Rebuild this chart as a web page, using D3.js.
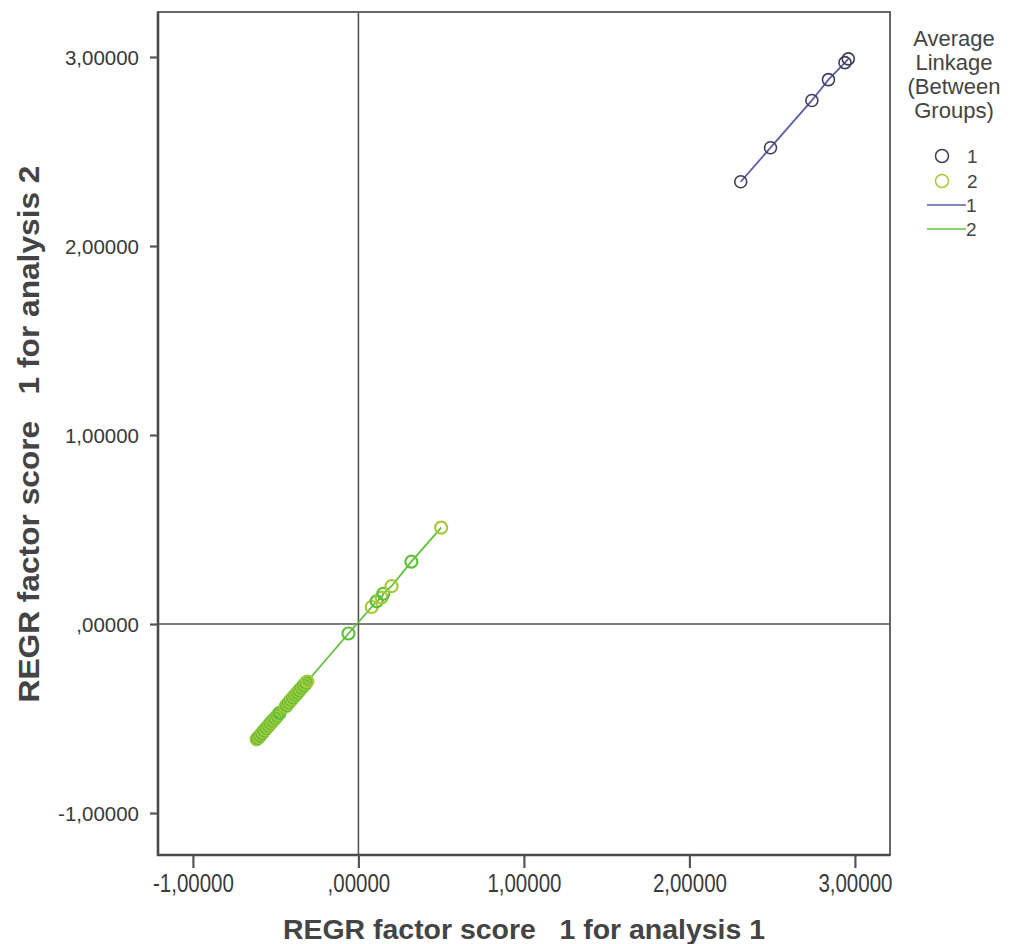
<!DOCTYPE html>
<html>
<head>
<meta charset="utf-8">
<script src="https://cdn.jsdelivr.net/npm/d3@7"></script>
<style>
  html, body { margin: 0; padding: 0; background: #fff; }
  svg { display: block; font-family: "Liberation Sans", Arial, sans-serif; }
</style>
</head>
<body>
<svg id="chart" width="1010" height="944"></svg>
<script>
// Cluster membership (Average Linkage, Between Groups) of REGR factor scores
const cluster1X = [2.31, 2.49, 2.74, 2.84, 2.94, 2.96];
const cluster1Y = [2.34, 2.52, 2.77, 2.88, 2.97, 2.99];

const cluster2X = [
  -0.615, -0.608, -0.600, -0.594, -0.588, -0.581, -0.575, -0.569, -0.562, -0.556, -0.549,
  -0.543, -0.536, -0.530, -0.523, -0.517, -0.510, -0.503, -0.497, -0.490, -0.483, -0.477,
  -0.440, -0.433, -0.427, -0.420, -0.414, -0.407, -0.401, -0.394, -0.388, -0.381, -0.375,
  -0.368, -0.362, -0.355, -0.349, -0.342, -0.336, -0.329, -0.322, -0.316, -0.309,
  -0.06, 0.08, 0.11, 0.14, 0.15, 0.20, 0.32, 0.50];
const cluster2Y = [
  -0.610, -0.603, -0.597, -0.590, -0.583, -0.577, -0.570, -0.563, -0.557, -0.550, -0.544,
  -0.537, -0.531, -0.524, -0.518, -0.511, -0.505, -0.498, -0.492, -0.485, -0.478, -0.471,
  -0.436, -0.429, -0.422, -0.415, -0.409, -0.402, -0.396, -0.389, -0.382, -0.376, -0.369,
  -0.363, -0.356, -0.350, -0.343, -0.337, -0.330, -0.324, -0.317, -0.310, -0.304,
  -0.05, 0.09, 0.12, 0.14, 0.16, 0.20, 0.33, 0.51];

const xTicks = [-1, 0, 1, 2, 3];
const yTicks = [-1, 0, 1, 2, 3];
const groupNames = ["1", "2"];

const legendTitle = ["Average", "Linkage", "(Between", "Groups)"];
const xTitle = "REGR factor score   1 for analysis 1";
const yTitle = "REGR factor score   1 for analysis 2";

const markerStroke = ["#3d3f58", "#a9c83a"];
const lineStroke = ["#5a5ea6", "#5fc03a"];

const svg = d3.select("#chart");
const plot = { left: 158, right: 890, top: 12, bottom: 855 };

const x = d3.scaleLinear().domain([-1.211, 3.212]).range([plot.left, plot.right]);
const y = d3.scaleLinear().domain([-1.222, 3.238]).range([plot.bottom, plot.top]);

// formatting like "3,00000" and ",00000"
const fmt = v => {
  let s = Math.abs(v).toFixed(5).replace(".", ",");
  if (s.startsWith("0,")) s = s.slice(1);
  return (v < 0 ? "-" : "") + s;
};

// reference lines through the origin
svg.append("line")
  .attr("x1", x(0)).attr("x2", x(0))
  .attr("y1", plot.top).attr("y2", plot.bottom)
  .attr("stroke", "#555").attr("stroke-width", 1.6);
svg.append("line")
  .attr("x1", plot.left).attr("x2", plot.right)
  .attr("y1", y(0)).attr("y2", y(0))
  .attr("stroke", "#555").attr("stroke-width", 1.6);

// series
const series = [
  cluster1X.map((v, i) => ({ x: v, y: cluster1Y[i] })),
  cluster2X.map((v, i) => ({ x: v, y: cluster2Y[i] }))
];

const line = d3.line().x(d => x(d.x)).y(d => y(d.y));

series.forEach((pts, g) => {
  const sorted = pts.slice().sort((a, b) => a.x - b.x);
  svg.append("path")
    .datum(sorted)
    .attr("d", line)
    .attr("fill", "none")
    .attr("stroke", lineStroke[g])
    .attr("stroke-width", 1.8);
});

series.forEach((pts, g) => {
  svg.append("g").selectAll("circle")
    .data(pts)
    .join("circle")
    .attr("cx", d => x(d.x))
    .attr("cy", d => y(d.y))
    .attr("r", 6)
    .attr("fill", "none")
    .attr("stroke", (d, i) => (g === 1 && i % 2 === 1) ? lineStroke[1] : markerStroke[g])
    .attr("stroke-width", g === 1 ? 2.2 : 1.6);
});

// frame
svg.append("rect")
  .attr("x", plot.left).attr("y", plot.top)
  .attr("width", plot.right - plot.left).attr("height", plot.bottom - plot.top)
  .attr("fill", "none").attr("stroke", "#666").attr("stroke-width", 2);
svg.append("path")
  .attr("d", `M${plot.left},${plot.top}V${plot.bottom}H${plot.right}`)
  .attr("fill", "none").attr("stroke", "#4a4a4a").attr("stroke-width", 2.6);

// axes
const xAxis = d3.axisBottom(x).tickValues(xTicks).tickFormat(fmt).tickSize(13).tickSizeOuter(0);
const yAxis = d3.axisLeft(y).tickValues(yTicks).tickFormat(fmt).tickSize(8).tickSizeOuter(0);

const gx = svg.append("g").attr("transform", `translate(0,${plot.bottom})`).call(xAxis);
const gy = svg.append("g").attr("transform", `translate(${plot.left},0)`).call(yAxis);

[gx, gy].forEach(g => {
  g.select(".domain").remove();
  g.selectAll(".tick line").attr("stroke", "#555").attr("stroke-width", 2.2);
  g.selectAll(".tick text")
    .attr("fill", "#3a3a3a")
    .style("font-size", "20.5px")
    .style("font-family", "'Liberation Sans', Arial, sans-serif");
});
gx.selectAll(".tick text")
  .attr("y", 0).attr("dy", 0)
  .attr("transform", "translate(0,37) scale(1,1.3)");
gy.selectAll(".tick text").attr("x", -19).attr("dy", "0.36em");

// axis titles
svg.append("text")
  .attr("x", 524).attr("y", 939)
  .attr("text-anchor", "middle")
  .attr("fill", "#444")
  .attr("textLength", 482).attr("lengthAdjust", "spacingAndGlyphs")
  .style("font-size", "28px").style("font-weight", "bold")
  .style("white-space", "pre")
  .text(xTitle);

svg.append("text")
  .attr("transform", `translate(39,434) rotate(-90)`)
  .attr("text-anchor", "middle")
  .attr("fill", "#444")
  .attr("textLength", 537).attr("lengthAdjust", "spacingAndGlyphs")
  .style("font-size", "30px").style("font-weight", "bold")
  .style("white-space", "pre")
  .text(yTitle);

// legend
const lg = svg.append("g");
legendTitle.forEach((t, i) => {
  lg.append("text")
    .attr("x", 954).attr("y", 46 + i * 24)
    .attr("text-anchor", "middle")
    .attr("fill", "#444")
    .style("font-size", "22px")
    .text(t);
});

groupNames.forEach((name, i) => {
  const cy = 156 + i * 25;
  lg.append("circle")
    .attr("cx", 942).attr("cy", cy).attr("r", 6.5)
    .attr("fill", "none").attr("stroke", markerStroke[i]).attr("stroke-width", 1.5);
  lg.append("text")
    .attr("x", 967).attr("y", cy + 7)
    .attr("fill", "#444").style("font-size", "19px")
    .text(name);
});

groupNames.forEach((name, i) => {
  const ly = 205 + i * 24;
  lg.append("line")
    .attr("x1", 927).attr("x2", 966).attr("y1", ly).attr("y2", ly)
    .attr("stroke", lineStroke[i]).attr("stroke-width", 1.6);
  lg.append("text")
    .attr("x", 966).attr("y", ly + 7)
    .attr("fill", "#444").style("font-size", "19px")
    .text(name);
});
</script>
</body>
</html>
